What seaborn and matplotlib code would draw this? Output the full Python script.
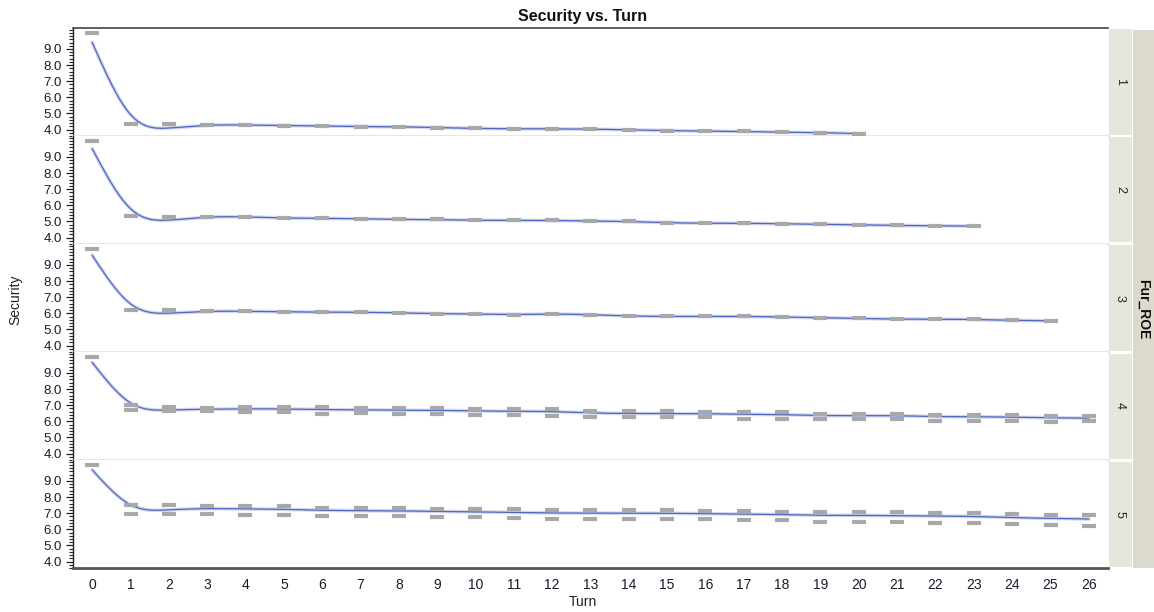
import numpy as np
import pandas as pd
import seaborn as sns
import matplotlib.pyplot as plt
from matplotlib.patches import Rectangle
from matplotlib.ticker import MultipleLocator

nan = np.nan

# Security per turn, one list per Fur_ROE level (block = upper cluster, low = lower dashes)
g1_block = [10.0, 4.35, 4.35, 4.30, 4.27, 4.25, 4.22, 4.17, 4.18, 4.12, 4.07, 4.05, 4.04,
            4.03, 3.98, 3.93, 3.91, 3.88, 3.83, 3.81, 3.75]
g2_block = [10.0, 5.32, 5.28, 5.30, 5.28, 5.20, 5.20, 5.16, 5.12, 5.12, 5.06, 5.08, 5.06,
            5.02, 5.00, 4.91, 4.89, 4.89, 4.85, 4.83, 4.79, 4.75, 4.73, 4.71]
g3_block = [10.0, 6.20, 6.18, 6.14, 6.12, 6.08, 6.08, 6.06, 6.04, 5.97, 5.97, 5.91, 5.97,
            5.91, 5.83, 5.81, 5.81, 5.81, 5.77, 5.73, 5.68, 5.64, 5.64, 5.62, 5.56, 5.54]
g4_block = [10.0, 7.02, 6.90, 6.82, 6.88, 6.88, 6.86, 6.84, 6.80, 6.80, 6.76, 6.74, 6.76,
            6.63, 6.61, 6.61, 6.59, 6.57, 6.55, 6.47, 6.47, 6.47, 6.41, 6.41, 6.37, 6.35, 6.30]
g4_low = [nan, 6.70, 6.65, 6.61, 6.55, 6.55, 6.45, 6.49, 6.45, 6.45, 6.39, 6.39, 6.30,
          6.28, 6.24, 6.24, 6.24, 6.16, 6.16, 6.12, 6.12, 6.12, 6.04, 6.04, 6.04, 5.95, 6.00]
g5_block = [10.0, 7.48, 7.48, 7.44, 7.44, 7.42, 7.35, 7.33, 7.31, 7.29, 7.25, 7.23, 7.19,
            7.19, 7.17, 7.17, 7.13, 7.13, 7.09, 7.07, 7.07, 7.05, 7.02, 7.00, 6.92, 6.88, 6.86]
g5_low = [nan, 6.98, 6.98, 6.98, 6.90, 6.90, 6.82, 6.82, 6.82, 6.74, 6.74, 6.70, 6.65,
          6.65, 6.65, 6.65, 6.65, 6.57, 6.57, 6.45, 6.45, 6.45, 6.41, 6.41, 6.33, 6.28, 6.20]

groups = ["1", "2", "3", "4", "5"]
blocks = [g1_block, g2_block, g3_block, g4_block, g5_block]
lows = [None, None, None, g4_low, g5_low]

rows = []
for g, b, lo in zip(groups, blocks, lows):
    for t, v in enumerate(b):
        rows.append((g, t, v, 2.0 if t > 0 else 1.0))
    if lo is not None:
        for t, v in enumerate(lo):
            if not np.isnan(v):
                rows.append((g, t, v, 1.0))
df = pd.DataFrame(rows, columns=["Fur_ROE", "Turn", "Security", "w"])


def smoother(x, y, w, lam=110.0, h=0.1):
    # penalized spline on a fine grid (like a cubic smoothing spline)
    grid = np.arange(0, x.max() + h / 2, h)
    n = len(grid)
    idx = np.rint(x / h).astype(int)
    A = np.zeros((len(x), n))
    A[np.arange(len(x)), idx] = 1.0
    W = np.diag(w)
    D = np.diff(np.eye(n), 2, axis=0)
    f = np.linalg.solve(A.T @ W @ A + lam * D.T @ D, A.T @ W @ y)
    return grid, f


sns.set_style("white")
plt.rcParams['font.family'] = ['Liberation Sans', 'DejaVu Sans']

fig, axes = plt.subplots(5, 1, figsize=(11.54, 6.12), dpi=100, sharex=True)
L, R, T, B = 73 / 1154, 1108 / 1154, 1 - 28 / 612, 1 - 568 / 612
fig.subplots_adjust(left=L, right=R, top=T, bottom=B, hspace=0)

for i, (ax, g) in enumerate(zip(axes, groups)):
    sub = df[df["Fur_ROE"] == g]
    gx, gy = smoother(sub["Turn"].to_numpy(float), sub["Security"].to_numpy(float),
                      sub["w"].to_numpy(float))
    sns.lineplot(x=gx, y=gy, ax=ax, color="#d3d7ee", lw=2.6, zorder=2)
    sns.lineplot(x=gx, y=gy, ax=ax, color="#4b68c0", lw=0.9, zorder=3)
    sns.scatterplot(data=sub, x="Turn", y="Security", marker="_", s=90, linewidth=3.0,
                    color="#a8a8a8", edgecolor="#a8a8a8", ax=ax, legend=False, zorder=4)

    ax.set_xlim(-0.5, 26.5)
    ax.set_ylim(3.6, 10.3)
    ax.set_yticks(np.arange(4, 10, 1.0))
    ax.set_yticklabels([f"{v:.1f}" for v in np.arange(4, 10, 1.0)])
    ax.yaxis.set_minor_locator(MultipleLocator(0.2))
    ax.tick_params(axis="y", which="major", length=5, width=0.9, color="#222222",
                   labelsize=9.5, labelcolor="#1a1a2a", pad=3, left=True)
    ax.tick_params(axis="y", which="minor", length=3, width=0.8, color="#222222", left=True)
    ax.set_ylabel("")
    ax.set_xlabel("")
    for s in ["top", "right", "bottom", "left"]:
        ax.spines[s].set_visible(False)
    ax.spines["left"].set_visible(True)
    ax.spines["left"].set_color("#222222")
    ax.spines["left"].set_linewidth(1.0)
    if i == 0:
        ax.spines["top"].set_visible(True)
        ax.spines["top"].set_color("#444444")
        ax.spines["top"].set_linewidth(1.2)
    if i < 4:
        ax.spines["bottom"].set_visible(True)
        ax.spines["bottom"].set_color("#dedede")
        ax.spines["bottom"].set_linewidth(1.8)
        ax.tick_params(axis="x", length=0, labelbottom=False)
    else:
        ax.spines["bottom"].set_visible(True)
        ax.spines["bottom"].set_color("#555555")
        ax.spines["bottom"].set_linewidth(2.0)
        ax.set_xticks(range(0, 27))
        ax.tick_params(axis="x", length=0, labelsize=10, labelcolor="#1a1a2a", pad=7)

    # per-panel strip on the right
    pos = ax.get_position()
    fig.patches.append(Rectangle((1109 / 1154, pos.y0 + 1.5 / 612), 23 / 1154,
                                 pos.height - 3 / 612, transform=fig.transFigure,
                                 facecolor="#e7e6dd", edgecolor="none", zorder=0))
    fig.text(1120 / 1154, pos.y0 + pos.height / 2, g, rotation=-90, ha="center",
             va="center", fontsize=9, color="#222222")

fig.patches.append(Rectangle((1133 / 1154, B), 21 / 1154, T - B - 2 / 612,
                             transform=fig.transFigure, facecolor="#dcdacc",
                             edgecolor="none", zorder=0))
fig.text(1143 / 1154, 1 - 309 / 612, "Fur_ROE", rotation=-90, ha="center", va="center",
         fontsize=10, fontweight="bold", color="#111111")

fig.text(0.505, 1 - 16 / 612, "Security vs. Turn", ha="center", va="center",
         fontsize=11.5, fontweight="bold", color="#111111")
fig.text(0.505, 1 - 602 / 612, "Turn", ha="center", va="center", fontsize=10,
         color="#222222")
fig.text(15 / 1154, 1 - 300 / 612, "Security", rotation=90, ha="center", va="center",
         fontsize=10, color="#222222")

fig.savefig("out.png", dpi=100)
